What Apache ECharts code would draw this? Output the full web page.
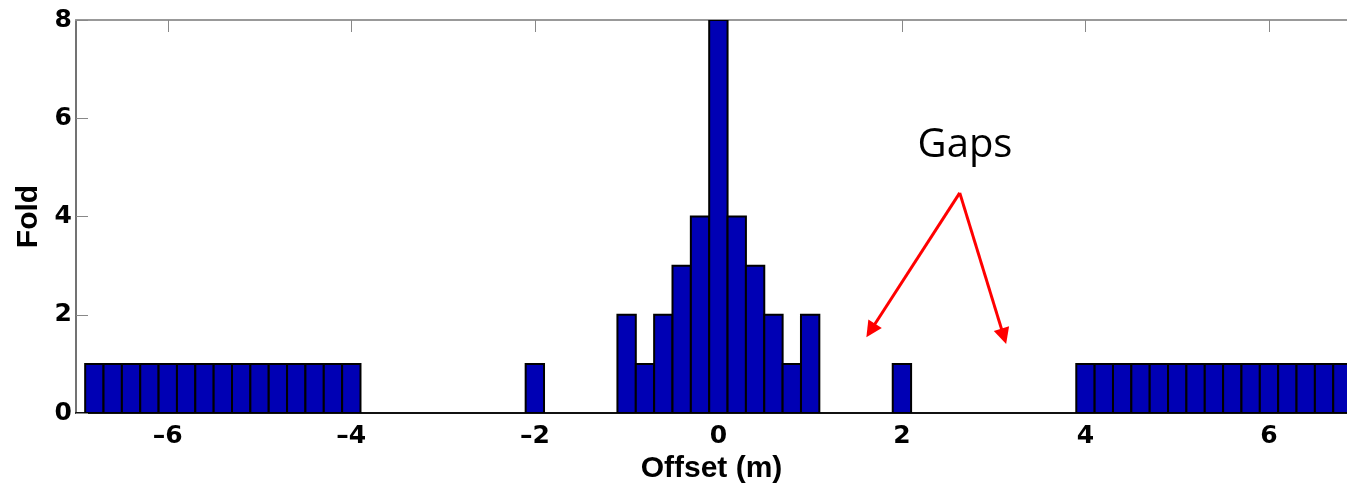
<!DOCTYPE html>
<html>
<head>
<meta charset="utf-8">
<script src="https://cdn.jsdelivr.net/npm/echarts@6.0.0/dist/echarts.min.js"></script>
<style>
  html, body { margin: 0; padding: 0; background: #fff; }
  #fold_chart { width: 1347px; height: 485px; }
</style>
</head>
<body>
<div id="fold_chart"></div>
<script>
// bin centres (m) and fold count of each bin
var offsets = [
    -6.8, -6.6, -6.4, -6.2, -6.0, -5.8, -5.6, -5.4, -5.2, -5.0, -4.8, -4.6, -4.4, -4.2, -4.0,
    -2.0,
    -1.0, -0.8, -0.6, -0.4, -0.2, 0.0, 0.2, 0.4, 0.6, 0.8, 1.0,
    2.0,
    4.0, 4.2, 4.4, 4.6, 4.8, 5.0, 5.2, 5.4, 5.6, 5.8, 6.0, 6.2, 6.4, 6.6, 6.8
];
var folds = [
    1, 1, 1, 1, 1, 1, 1, 1, 1, 1, 1, 1, 1, 1, 1,
    1,
    2, 1, 2, 3, 4, 8, 4, 3, 2, 1, 2,
    1,
    1, 1, 1, 1, 1, 1, 1, 1, 1, 1, 1, 1, 1, 1, 1
];
var xTicks = [-6, -4, -2, 0, 2, 4, 6];

// annotation arrows: from under the "Gaps" label down to the empty bins
var arrowStart = [2.63, 4.48];
var arrowEnds = [[1.66, 1.68], [3.11, 1.56]];

var binWidth = 0.2;
var barColor = '#0000b4';

var chart = echarts.init(document.getElementById('fold_chart'));

var seriesData = [];
for (var i = 0; i < offsets.length; i++) {
    seriesData.push([offsets[i], folds[i]]);
}

var arrowLines = [];
for (var j = 0; j < arrowEnds.length; j++) {
    arrowLines.push([{coord: arrowStart}, {coord: arrowEnds[j]}]);
}

var nameFont = {
    color: '#000',
    fontFamily: 'Liberation Sans',
    fontWeight: 'bold',
    fontSize: 30
};

var tickFont = {
    color: '#000',
    fontFamily: 'DejaVu Sans',
    fontWeight: 'bold',
    fontSize: 25
};

var option = {
    animation: false,
    grid: {
        left: 76,
        top: 20,
        right: 0,
        bottom: 72,
        containLabel: false,
        outerBoundsMode: 'none'
    },
    xAxis: [{
        type: 'value',
        min: -7,
        max: 6.85,
        name: 'Offset (m)',
        nameLocation: 'middle',
        nameGap: 28,
        nameTextStyle: nameFont,
        splitLine: {show: false},
        axisLine: {onZero: false, lineStyle: {color: '#111', width: 2}},
        axisTick: {inside: true, length: 12, customValues: xTicks, lineStyle: {color: '#888'}},
        axisLabel: Object.assign({
            customValues: xTicks,
            margin: 11,
            formatter: function (v) {
                return String(v).replace('-', '\u2013');
            }
        }, tickFont)
    }, {
        type: 'value',
        position: 'top',
        min: -7,
        max: 6.85,
        splitLine: {show: false},
        axisLine: {onZero: false, lineStyle: {color: '#999', width: 2}},
        axisTick: {inside: true, length: 12, customValues: xTicks, lineStyle: {color: '#888'}},
        axisLabel: {show: false}
    }],
    yAxis: {
        type: 'value',
        min: 0,
        max: 8,
        interval: 2,
        name: 'Fold',
        nameLocation: 'middle',
        nameGap: 30,
        nameTextStyle: nameFont,
        splitLine: {show: false},
        axisLine: {show: true, onZero: false, lineStyle: {color: '#444', width: 1.5}},
        axisTick: {inside: true, length: 12, lineStyle: {color: '#888'}},
        axisLabel: Object.assign({margin: 4}, tickFont)
    },
    series: [{
        type: 'custom',
        name: 'Fold',
        data: seriesData,
        encode: {x: 0, y: 1},
        clip: true,
        renderItem: function (params, api) {
            var x = api.value(0);
            var y = api.value(1);
            var p0 = api.coord([x - binWidth / 2, y]);
            var p1 = api.coord([x + binWidth / 2, 0]);
            return {
                type: 'rect',
                shape: {x: p0[0], y: p0[1], width: p1[0] - p0[0], height: p1[1] - p0[1]},
                style: {fill: barColor, stroke: '#000', lineWidth: 2}
            };
        },
        markLine: {
            silent: true,
            symbol: ['none', 'triangle'],
            symbolSize: 16,
            label: {show: false},
            lineStyle: {color: '#ff0000', width: 3, type: 'solid'},
            data: arrowLines
        }
    }],
    graphic: [{
        type: 'text',
        x: 965,
        y: 146,
        style: {
            text: 'Gaps',
            fill: '#000',
            font: '40px "Open Sans"',
            textAlign: 'center',
            textVerticalAlign: 'middle'
        }
    }]
};

chart.setOption(option);
</script>
</body>
</html>
